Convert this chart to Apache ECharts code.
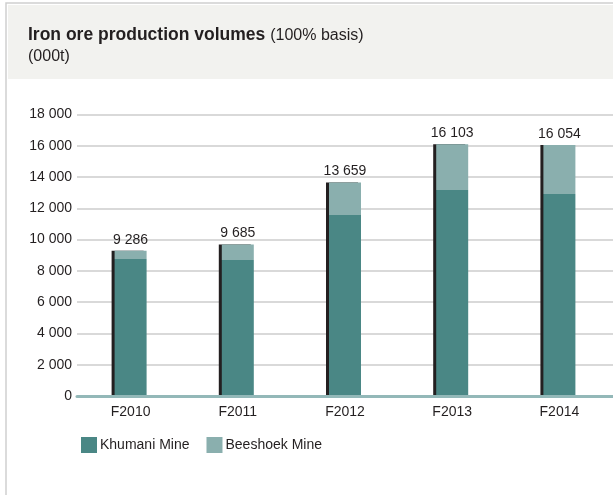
<!DOCTYPE html>
<html>
<head>
<meta charset="utf-8">
<style>
  html, body { margin: 0; padding: 0; background: #ffffff; }
  #chart { width: 613px; height: 495px; }
</style>
<script src="https://cdn.jsdelivr.net/npm/echarts@6/dist/echarts.min.js"></script>
</head>
<body>
<div id="chart"></div>
<script>
// Financial years on the x axis
const years = ['F2010', 'F2011', 'F2012', 'F2013', 'F2014'];
// Production per mine, thousand tonnes
const khumani = [8760, 8700, 11570, 13170, 12920];
const beeshoek = [526, 985, 2089, 2933, 3134];
// Stated totals shown above each column
const totals = [9286, 9685, 13659, 16103, 16054];

const fmt = v => String(v).replace(/\B(?=(\d{3})+(?!\d))/g, ' ');
const FONT = 'Liberation Sans, Arial, sans-serif';

const chart = echarts.init(document.getElementById('chart'), null, { renderer: 'canvas' });

chart.setOption({
  animation: false,
  backgroundColor: '#ffffff',
  graphic: [
    { type: 'rect', shape: { x: 6, y: 3, width: 620, height: 500 }, style: { fill: 'none', stroke: '#cfcfcf', lineWidth: 1.5 }, z: 0 },
    { type: 'rect', shape: { x: 8, y: 5, width: 610, height: 74 }, style: { fill: '#f2f2ef' }, z: 0 }
  ],
  title: {
    left: 23, top: 20,
    text: '{b|Iron ore production volumes} {r|(100% basis)}\n{r|(000t)}',
    textStyle: {
      fontWeight: 'normal',
      rich: {
        b: { fontFamily: FONT, fontSize: 17.5, fontWeight: 'bold', color: '#231f20', lineHeight: 21 },
        r: { fontFamily: FONT, fontSize: 16, fontWeight: 'normal', color: '#231f20', lineHeight: 21 }
      }
    }
  },
  legend: {
    left: 76, top: 432,
    itemWidth: 16, itemHeight: 16, itemGap: 17,
    icon: 'rect',
    textStyle: { fontFamily: FONT, fontSize: 14, color: '#231f20', padding: [0, 0, 0, -2] },
    data: ['Khumani Mine', 'Beeshoek Mine']
  },
  grid: { left: 77, top: 114.5, width: 542, height: 281.5, containLabel: false },
  xAxis: {
    type: 'category',
    data: years,
    axisLine: { show: true, lineStyle: { color: '#93b8b8', width: 3 } },
    axisTick: { show: false },
    axisLabel: { fontFamily: FONT, fontSize: 14, color: '#231f20', margin: 9 },
    z: 5
  },
  yAxis: {
    type: 'value',
    min: 0, max: 18000, interval: 2000,
    axisLine: { show: false },
    axisTick: { show: false },
    axisLabel: { fontFamily: FONT, fontSize: 14, color: '#231f20', margin: 5, formatter: v => fmt(v) },
    splitLine: { lineStyle: { color: '#cccccc', width: 1.5 } }
  },
  series: [
    {
      name: 'Khumani Mine',
      type: 'bar',
      stack: 'mine',
      barWidth: 32,
      data: khumani,
      itemStyle: { color: '#4a8785', shadowColor: '#231f20', shadowOffsetX: -3, shadowBlur: 0 }
    },
    {
      name: 'Beeshoek Mine',
      type: 'bar',
      stack: 'mine',
      barWidth: 32,
      data: beeshoek,
      itemStyle: { color: '#8aafae', shadowColor: '#231f20', shadowOffsetX: -3, shadowBlur: 0 },
      label: {
        show: true,
        position: 'top',
        distance: 4,
        fontFamily: FONT, fontSize: 14, color: '#231f20',
        formatter: p => fmt(totals[p.dataIndex])
      }
    }
  ]
});
</script>
</body>
</html>
